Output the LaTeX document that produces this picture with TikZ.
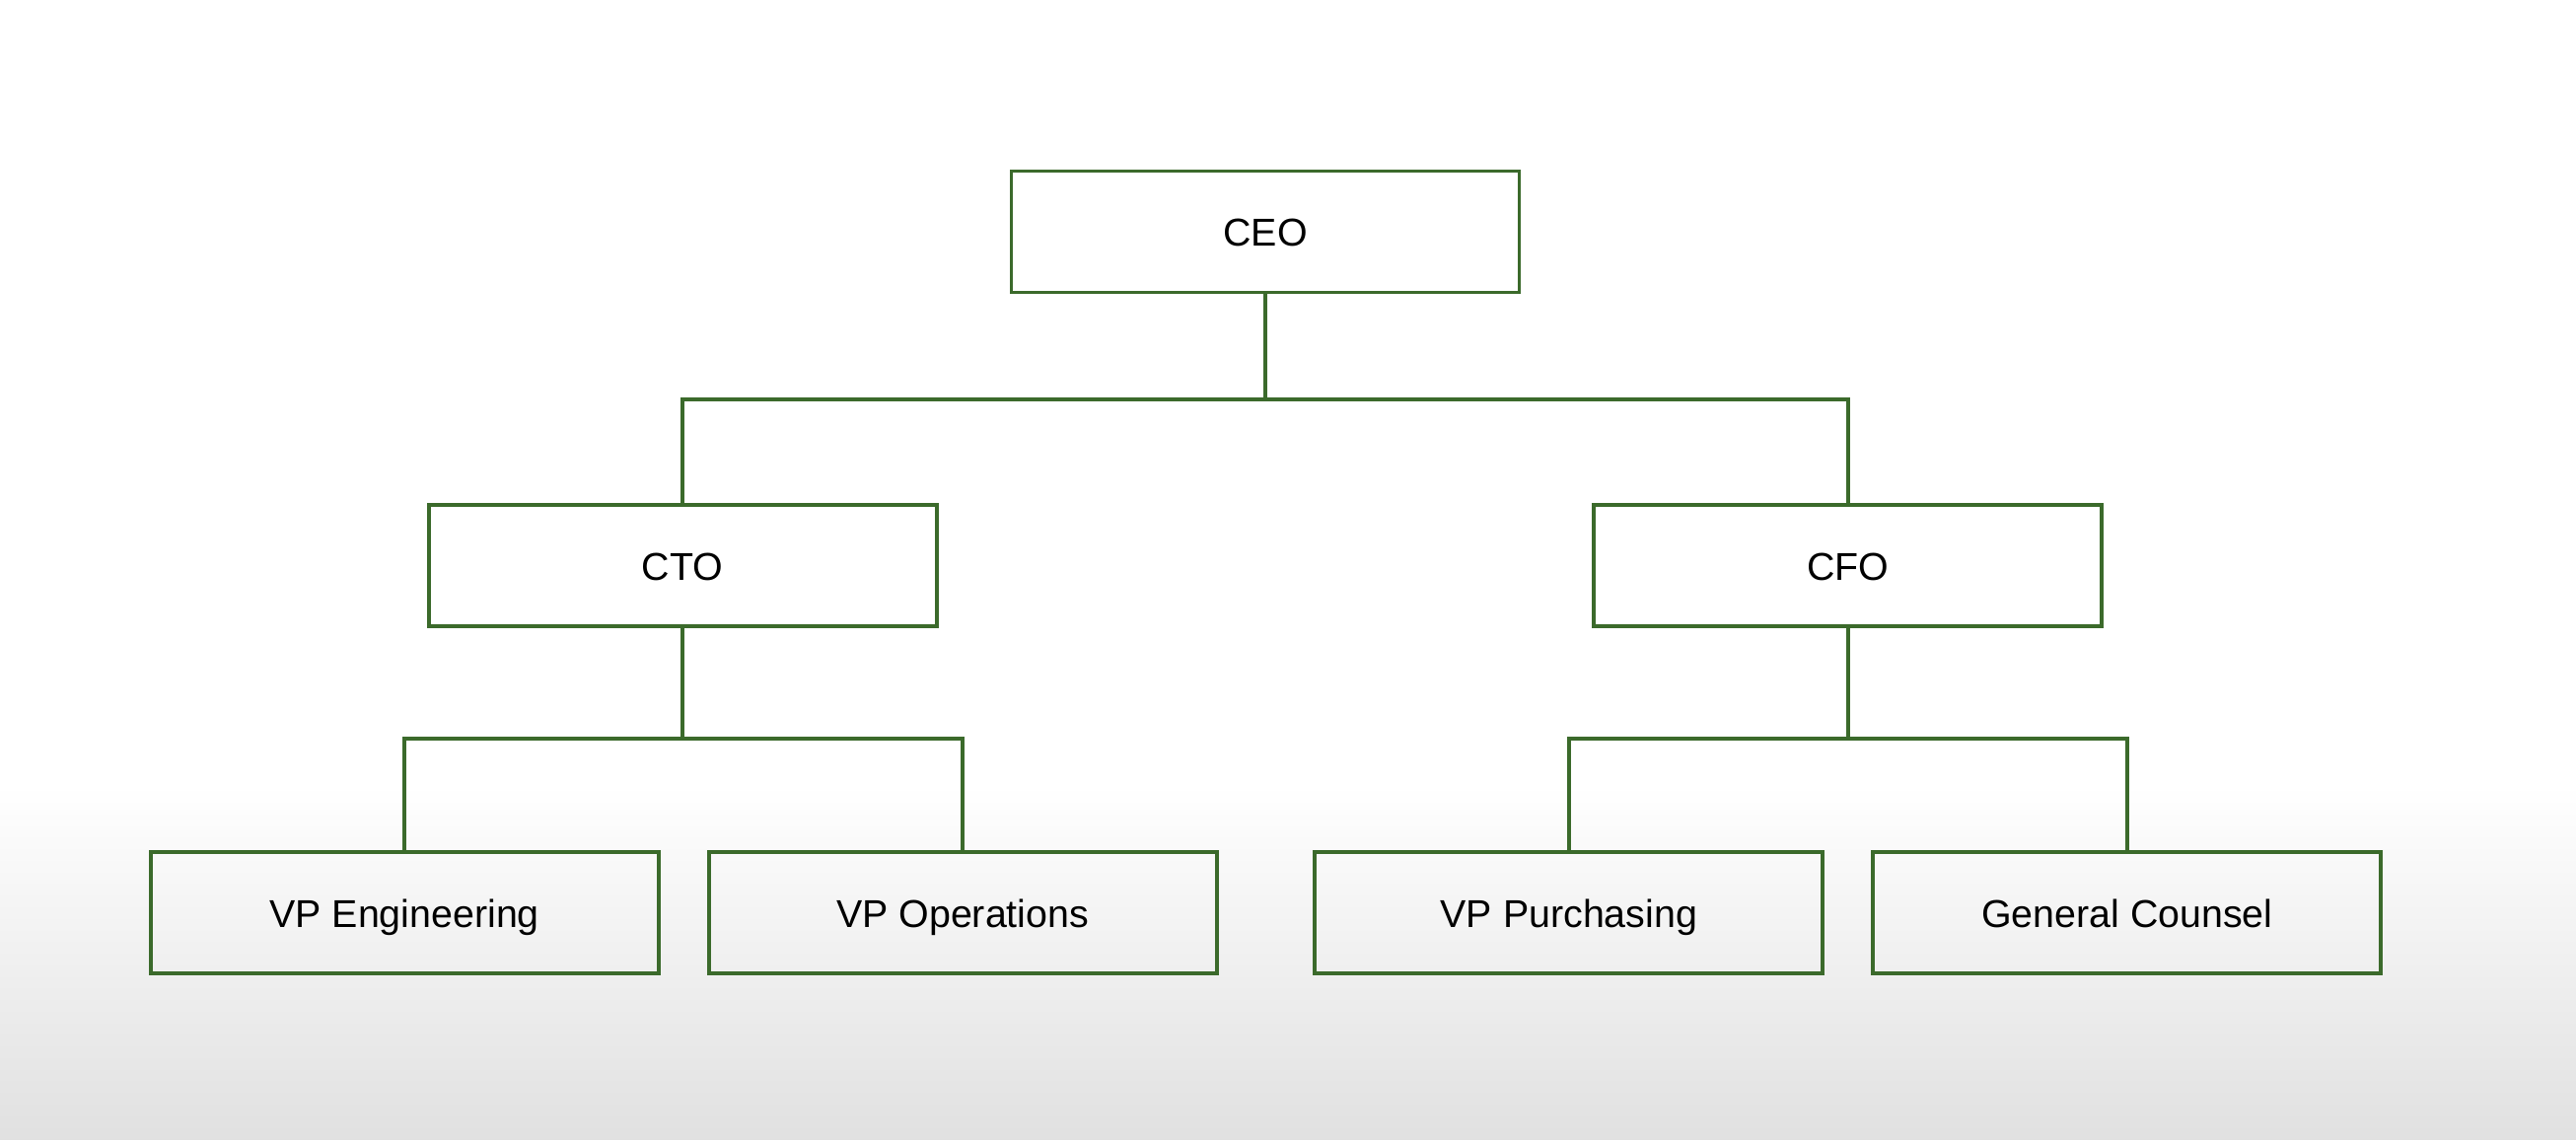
\documentclass[tikz,border=0pt]{standalone}
\usepackage{fontspec}
\setmainfont{Liberation Sans}
\usetikzlibrary{positioning}

\definecolor{boxgreen}{HTML}{3B6A2B}

\begin{document}
\begin{tikzpicture}[
		node distance=2.12cm and 0.72cm,
		orgbox/.style={rectangle, draw=boxgreen, line width=1.1pt, minimum width=5.15cm, minimum height=1.23cm, inner sep=0pt, text height=2.05ex, text depth=0.45ex, font=\fontsize{11.2}{13}\selectfont},
		link/.style={draw=boxgreen, line width=1.1pt}
	]

	% Background
	\fill[white] (0,0) rectangle (26.12,11.56);
	\shade[bottom color=black!12, top color=white] (0,0) rectangle (26.12,3.6);
	\useasboundingbox (0,0) rectangle (26.12,11.56);

	% Top level
	\node [orgbox] at (12.83,9.21) (ceo) {CEO};

	% Second level
	\node [orgbox, below left=of ceo] (cto) {CTO};
	\node [orgbox, below right=of ceo] (cfo) {CFO};

	% Third level
	\node [orgbox, below=2.25cm of cto, xshift=-2.82cm] (vpeng) {VP Engineering};
	\node [orgbox, below=2.25cm of cto, xshift=2.84cm] (vpops) {VP Operations};
	\node [orgbox, below=2.25cm of cfo, xshift=-2.83cm] (vppur) {VP Purchasing};
	\node [orgbox, below=2.25cm of cfo, xshift=2.83cm] (counsel) {General Counsel};

	% Connectors
	\path [link] (ceo.south) -- ++(0,-1.07) coordinate (ceobar) -| (cto.north);
	\path [link] (ceobar) -| (cfo.north);

	\path [link] (cto.south) -- ++(0,-1.12) coordinate (ctobar) -| (vpeng.north);
	\path [link] (ctobar) -| (vpops.north);

	\path [link] (cfo.south) -- ++(0,-1.12) coordinate (cfobar) -| (vppur.north);
	\path [link] (cfobar) -| (counsel.north);

\end{tikzpicture}
\end{document}
